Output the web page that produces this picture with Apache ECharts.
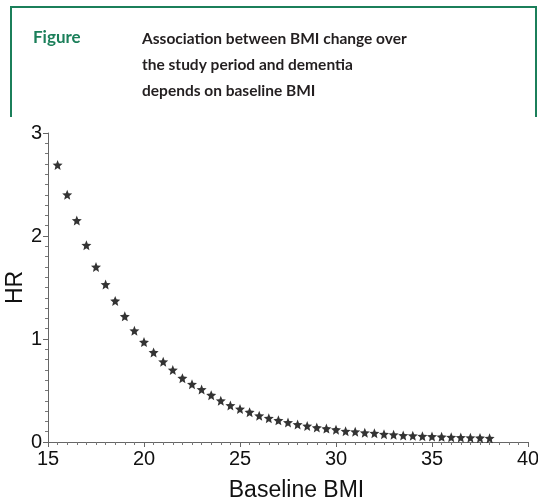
<!DOCTYPE html>
<html><head><meta charset="utf-8">
<script src="https://cdn.jsdelivr.net/npm/echarts@6/dist/echarts.min.js"></script>
<style>html,body{margin:0;padding:0;background:#fff}#c{width:538px;height:504px}</style>
</head><body><div id="c"></div>
<script>
// Data
const baselineBMI = [15.5,16,16.5,17,17.5,18,18.5,19,19.5,20,20.5,21,21.5,22,22.5,23,23.5,24,24.5,25,25.5,26,26.5,27,27.5,28,28.5,29,29.5,30,30.5,31,31.5,32,32.5,33,33.5,34,34.5,35,35.5,36,36.5,37,37.5,38];
const hazardRatio = [2.69,2.40,2.15,1.91,1.70,1.53,1.37,1.22,1.08,0.97,0.87,0.78,0.70,0.62,0.56,0.51,0.455,0.40,0.355,0.32,0.29,0.255,0.23,0.21,0.19,0.17,0.155,0.14,0.13,0.12,0.105,0.10,0.09,0.085,0.075,0.07,0.063,0.06,0.056,0.053,0.05,0.047,0.044,0.042,0.04,0.037];
const titleLabel = 'Figure';
const titleLines = ['Association between BMI change over','the study period and dementia','depends on baseline BMI'];
const xName = 'Baseline BMI';
const yName = 'HR';

const green = '#1b7f5a';
const chart = echarts.init(document.getElementById('c'), null, {renderer:'canvas'});
const starPath = 'path://M50,0 L63,32 L98,35 L71,58 L79,92 L50,74 L21,92 L29,58 L2,35 L37,32 Z';

chart.setOption({
  animation:false,
  backgroundColor:'#fff',
  graphic:[
    {type:'polyline', shape:{points:[[11,117],[11,7],[536,7],[536,117]]}, style:{stroke:green, lineWidth:2, fill:null}},
    {type:'text', left:33, top:29, style:{text:titleLabel, font:'bold 17px Lato', fill:green}},
    {type:'text', left:142, top:26, style:{text:titleLines.join('\n'), font:'bold 15.5px Lato', lineHeight:26, fill:'#231f20'}}
  ],
  grid:{left:48, right:10, top:133, bottom:62, containLabel:false, outerBoundsMode:'none'},
  xAxis:{
    type:'value', min:15, max:40, interval:5,
    name:xName, nameLocation:'middle', nameGap:37, nameMoveOverlap:false,
    nameTextStyle:{fontSize:23, fontFamily:'Liberation Sans', color:'#111', padding:[0,0,0,17]},
    axisLine:{lineStyle:{color:'#666', width:1}},
    axisTick:{show:true, length:5, lineStyle:{color:'#666'}},
    minorTick:{show:true, splitNumber:10, length:3, lineStyle:{color:'#777'}},
    axisLabel:{fontSize:20, fontFamily:'Liberation Sans', color:'#111', margin:7},
    splitLine:{show:false}
  },
  yAxis:{
    type:'value', min:0, max:3, interval:1,
    name:yName, nameLocation:'middle', nameGap:21, nameRotate:90, nameMoveOverlap:false,
    nameTextStyle:{fontSize:23, fontFamily:'Liberation Sans', color:'#111'},
    axisLine:{show:true, lineStyle:{color:'#666', width:1}},
    axisTick:{show:true, length:5, lineStyle:{color:'#666'}},
    minorTick:{show:true, splitNumber:10, length:3, lineStyle:{color:'#777'}},
    axisLabel:{fontSize:20, fontFamily:'Liberation Sans', color:'#111', margin:6},
    splitLine:{show:false}
  },
  series:[{
    type:'scatter',
    data: baselineBMI.map((x,i)=>[x, hazardRatio[i]]),
    symbol: starPath,
    symbolSize: 10,
    itemStyle:{color:'#000'}
  }]
});
</script></body></html>
